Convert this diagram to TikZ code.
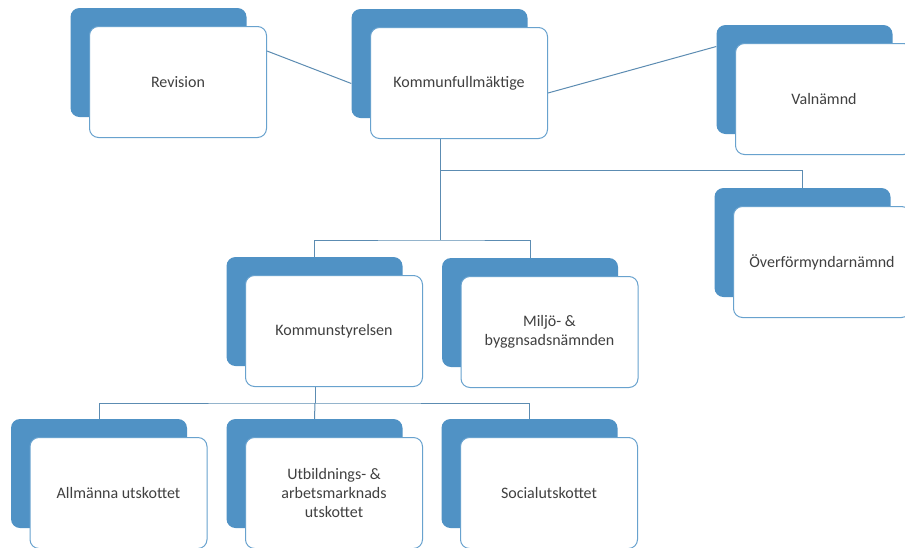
\documentclass[tikz,border=0pt]{standalone}
\usepackage{fontspec}
\setmainfont{Carlito}
\usetikzlibrary{calc}
\definecolor{backblue}{RGB}{80,146,197}
\definecolor{edgeblue}{RGB}{104,162,206}
\definecolor{lineblue}{RGB}{92,140,178}
\definecolor{textgray}{RGB}{64,64,64}
\tikzset{
  backbox/.style={fill=backblue, draw=none, rounded corners=9pt, minimum width=176pt, minimum height=109pt, inner sep=0pt},
  frontbox/.style={fill=white, draw=edgeblue, line width=1pt, rounded corners=9pt, minimum width=177pt, minimum height=111pt, inner sep=2pt, text=textgray, font=\fontsize{16}{19}\selectfont, align=center},
  conn/.style={draw=lineblue, line width=1pt}
}
\newcommand{\orgbox}[3]{%
  \node[backbox] (#1b) at ($(#2)+(-19.5,-19.5)$) {};
  \node[frontbox] (#1) at (#2) {#3};
}
\begin{document}
\begin{tikzpicture}[x=1pt,y=-1pt]
\useasboundingbox (0,0) rectangle (905,547);
\clip (0,0) rectangle (905,547);
\fill[white] (0,0) rectangle (905,547);
% boxes
\orgbox{rev}{178,82}{Revision}
\orgbox{kf}{459,83}{Kommunfullmäktige}
\orgbox{val}{824,99}{Valnämnd}
\orgbox{ov}{822,262}{Överförmyndarnämnd}
\orgbox{ks}{334,331}{Kommunstyrelsen}
\orgbox{mi}{549.5,332}{Miljö- \&\\byggnsadsnämnden}
\orgbox{al}{118.5,493}{Allmänna utskottet}
\orgbox{ut}{334,493}{Utbildnings- \&\\arbetsmarknads\\utskottet}
\orgbox{so}{549,493}{Socialutskottet}
% junctions
\coordinate (j1) at (440,170);
\coordinate (j2) at (440,240);
\coordinate (j3) at (315,403);
% connectors
\draw[conn] ($(rev.east)+(0,-31)$) -- ($(kfb.west)+(0,20)$);
\draw[conn] ($(kf.east)+(0,10)$) -- ($(valb.west)+(0,-33)$);
\draw[conn] (kf.south -| j1) -- (j2);
\draw[conn] (j1) -| (ovb.north);
\draw[conn] (ksb.north) |- (j2) -| (mib.north);
\draw[conn] (ks.south -| j3) -- (j3);
\draw[conn] (alb.north) |- (j3) -| (sob.north);
\draw[conn] (j3) -- (utb.north);
\end{tikzpicture}
\end{document}
